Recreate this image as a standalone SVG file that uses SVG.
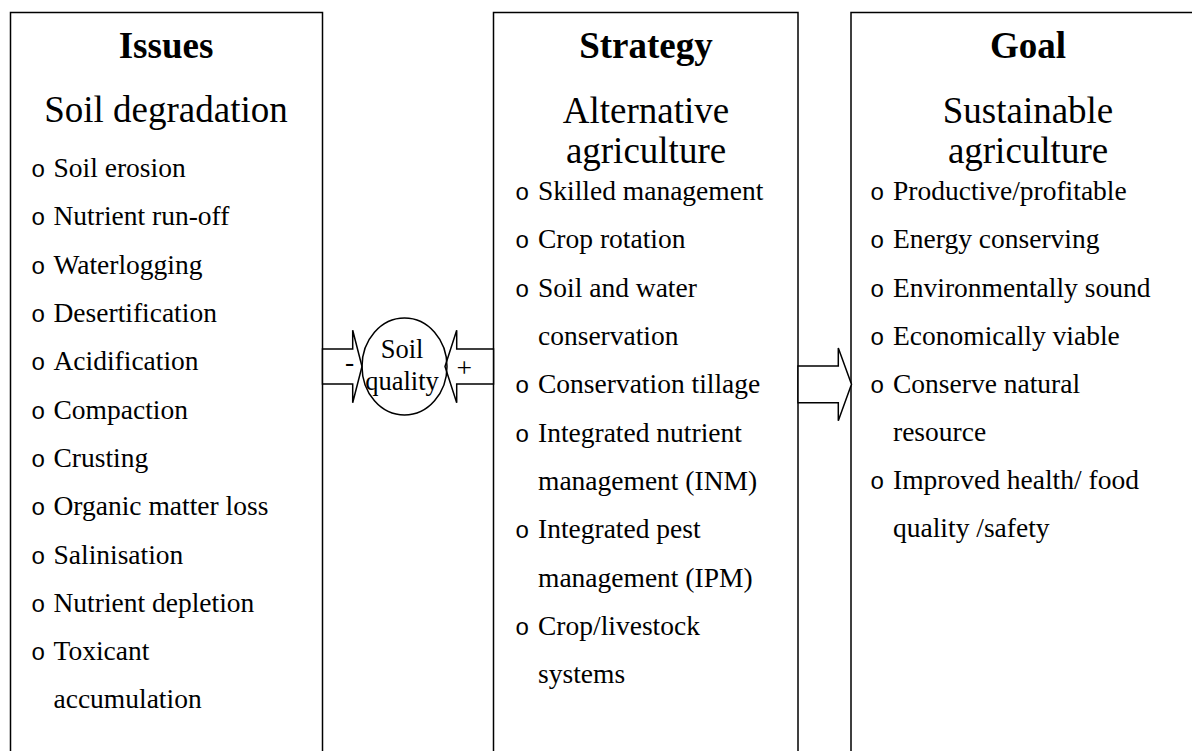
<svg xmlns="http://www.w3.org/2000/svg" width="1192" height="751" viewBox="0 0 1192 751">
<style>
.box{fill:none;stroke:#000;stroke-width:1.5}
.arr{fill:#fff;stroke:#000;stroke-width:1.5;stroke-linejoin:miter}
.t{font-family:"Liberation Serif","Times New Roman",serif;fill:#000}
.h{font-size:37px;font-weight:bold;text-anchor:middle}
.s{font-size:37px;text-anchor:middle}
.l{font-size:27.5px}
.b{font-family:"Liberation Mono","Courier New",monospace;font-size:24px;fill:#000}
.q{font-size:26.5px;text-anchor:middle}
</style>
<rect width="1192" height="751" fill="#fff"/>
<g id="issues">
<rect class="box" x="10.5" y="12.5" width="312" height="800"/>
<text class="t h" x="166" y="58">Issues</text>
<text class="t s" x="166" y="122">Soil degradation</text>
<g class="t l">
<text x="53.5" y="177">Soil erosion</text>
<text x="53.5" y="225">Nutrient run-off</text>
<text x="53.5" y="273.5">Waterlogging</text>
<text x="53.5" y="322">Desertification</text>
<text x="53.5" y="370">Acidification</text>
<text x="53.5" y="418.5">Compaction</text>
<text x="53.5" y="467">Crusting</text>
<text x="53.5" y="515">Organic matter loss</text>
<text x="53.5" y="563.5">Salinisation</text>
<text x="53.5" y="612">Nutrient depletion</text>
<text x="53.5" y="660">Toxicant</text>
<text x="53.5" y="708">accumulation</text>
</g>
<g class="b">
<text x="31" y="177">o</text>
<text x="31" y="225">o</text>
<text x="31" y="273.5">o</text>
<text x="31" y="322">o</text>
<text x="31" y="370">o</text>
<text x="31" y="418.5">o</text>
<text x="31" y="467">o</text>
<text x="31" y="515">o</text>
<text x="31" y="563.5">o</text>
<text x="31" y="612">o</text>
<text x="31" y="660">o</text>
</g>
</g>
<g id="strategy">
<rect class="box" x="493.5" y="12.5" width="304.5" height="800"/>
<text class="t h" x="646" y="58">Strategy</text>
<text class="t s" x="646" y="123">Alternative</text>
<text class="t s" x="646" y="163">agriculture</text>
<g class="t l">
<text x="538" y="200">Skilled management</text>
<text x="538" y="248.3">Crop rotation</text>
<text x="538" y="296.6">Soil and water</text>
<text x="538" y="345">conservation</text>
<text x="538" y="393">Conservation tillage</text>
<text x="538" y="441.5">Integrated nutrient</text>
<text x="538" y="490">management (INM)</text>
<text x="538" y="538">Integrated pest</text>
<text x="538" y="586.5">management (IPM)</text>
<text x="538" y="635">Crop/livestock</text>
<text x="538" y="683">systems</text>
</g>
<g class="b">
<text x="515" y="200">o</text>
<text x="515" y="248.3">o</text>
<text x="515" y="296.6">o</text>
<text x="515" y="393">o</text>
<text x="515" y="441.5">o</text>
<text x="515" y="538">o</text>
<text x="515" y="635">o</text>
</g>
</g>
<g id="goal">
<rect class="box" x="851" y="12.5" width="354" height="800"/>
<text class="t h" x="1028" y="58">Goal</text>
<text class="t s" x="1028" y="123">Sustainable</text>
<text class="t s" x="1028" y="163">agriculture</text>
<g class="t l">
<text x="893" y="200">Productive/profitable</text>
<text x="893" y="248.3">Energy conserving</text>
<text x="893" y="296.6">Environmentally sound</text>
<text x="893" y="345">Economically viable</text>
<text x="893" y="393">Conserve natural</text>
<text x="893" y="441">resource</text>
<text x="893" y="489">Improved health/ food</text>
<text x="893" y="536.5">quality /safety</text>
</g>
<g class="b">
<text x="870" y="200">o</text>
<text x="870" y="248.3">o</text>
<text x="870" y="296.6">o</text>
<text x="870" y="345">o</text>
<text x="870" y="393">o</text>
<text x="870" y="489">o</text>
</g>
</g>
<g id="connectors">
<polygon class="arr" points="322.5,349 352.7,349 352.7,330.3 362,366.5 352.7,402.7 352.7,384 322.5,384"/>
<polygon class="arr" points="493.5,349 456.7,349 456.7,330.3 445,366.5 456.7,402.7 456.7,384 493.5,384"/>
<polygon class="arr" points="798,366 838.3,366 838.3,348 851.5,384.3 838.3,420.7 838.3,402.7 798,402.7"/>
<text class="t l" x="345" y="371">-</text>
<text class="t l" x="456.5" y="377">+</text>
</g>
<g id="soil-quality">
<ellipse cx="404.5" cy="366.5" rx="42.5" ry="48.5" fill="none" stroke="#000" stroke-width="1.5"/>
<text class="t q" x="402" y="358">Soil</text>
<text class="t q" x="402" y="390">quality</text>
</g>
</svg>
